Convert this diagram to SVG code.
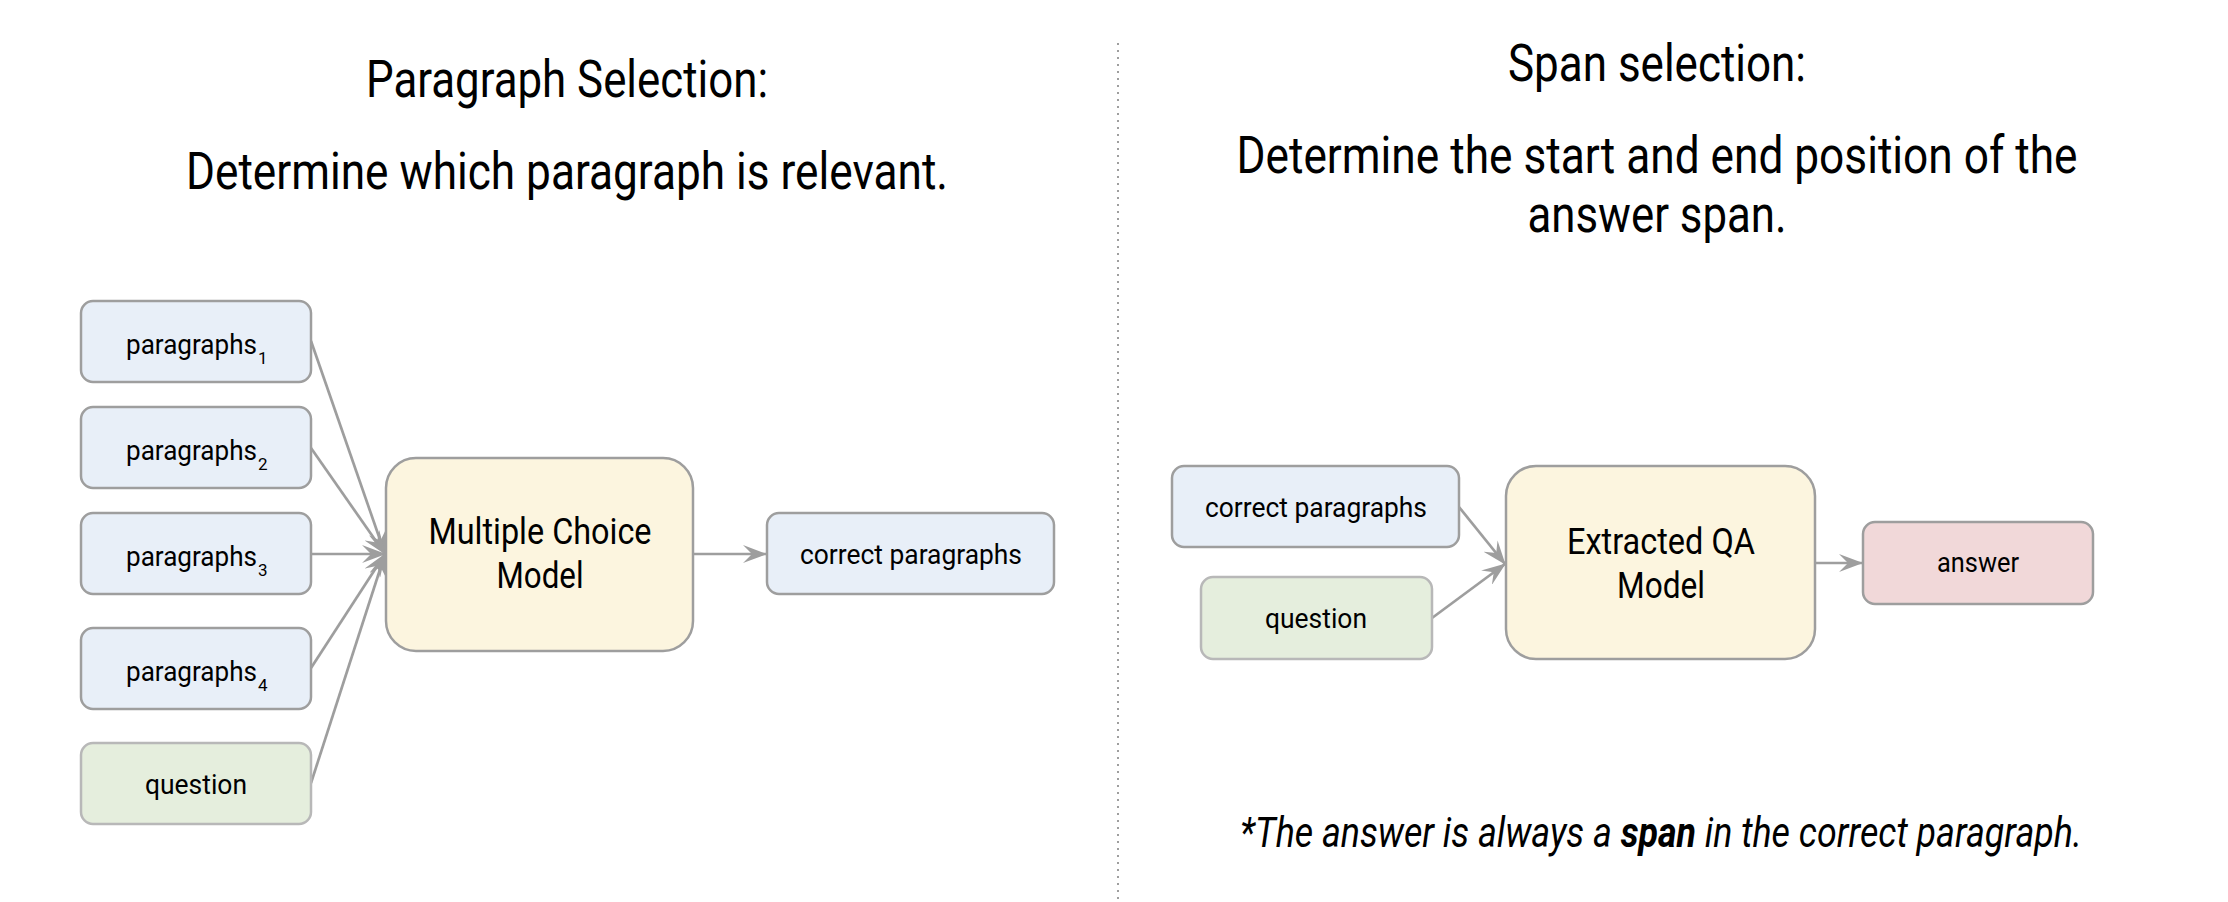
<svg xmlns="http://www.w3.org/2000/svg" width="2228" height="902" viewBox="0 0 2228 902">
<style>
text{font-family:Roboto,"Liberation Sans",sans-serif;fill:#000;}
.title{font-size:52px;}
.node{font-size:28px;}
.big{font-size:36px;}
.sub{font-size:17px;}
.blue{fill:#e8eff8;stroke:#9e9e9e;stroke-width:2.5;}
.green{fill:#e5eedd;stroke:#b8b8b8;stroke-width:2.5;}
.yellow{fill:#fcf5df;stroke:#9e9e9e;stroke-width:2.5;}
.pink{fill:#f1d8d9;stroke:#9e9e9e;stroke-width:2.5;}
.conn{stroke:#9e9e9e;stroke-width:2.7;fill:none;marker-end:url(#arr);}
</style>
<defs>
<marker id="arr" viewBox="0 0 24 18" refX="23" refY="9" markerWidth="24" markerHeight="18" markerUnits="userSpaceOnUse" orient="auto">
<path d="M0,0 L24,9 L0,18 L9,9 z" fill="#9e9e9e"/>
</marker>
</defs>
<rect width="2228" height="902" fill="#fff"/>
<line x1="1118" y1="43" x2="1118" y2="902" stroke="#9e9e9e" stroke-width="2" stroke-dasharray="2,5"/>
<g id="titles" text-anchor="middle">
<text class="title" x="567" y="97" textLength="402" lengthAdjust="spacingAndGlyphs">Paragraph Selection:</text>
<text class="title" x="567" y="189" textLength="762" lengthAdjust="spacingAndGlyphs">Determine which paragraph is relevant.</text>
<text class="title" x="1657" y="81" textLength="298" lengthAdjust="spacingAndGlyphs">Span selection:</text>
<text class="title" x="1657" y="173" textLength="841" lengthAdjust="spacingAndGlyphs">Determine the start and end position of the</text>
<text class="title" x="1657" y="232" textLength="259" lengthAdjust="spacingAndGlyphs">answer span.</text>
<text x="1661" y="847" style="font-size:42px;font-style:italic" textLength="842" lengthAdjust="spacingAndGlyphs">*The answer is always a <tspan font-weight="bold">span</tspan> in the correct paragraph.</text>
</g>
<g id="connectors">
<line class="conn" x1="311" y1="341" x2="385" y2="554"/>
<line class="conn" x1="311" y1="448" x2="385" y2="554"/>
<line class="conn" x1="311" y1="554" x2="385" y2="554"/>
<line class="conn" x1="311" y1="668" x2="385" y2="554"/>
<line class="conn" x1="311" y1="783" x2="385" y2="554"/>
<line class="conn" x1="693" y1="554" x2="766" y2="554"/>
<line class="conn" x1="1459" y1="507" x2="1505" y2="564"/>
<line class="conn" x1="1432" y1="618" x2="1505" y2="564"/>
<line class="conn" x1="1815" y1="563" x2="1862" y2="563"/>
</g>
<g id="p1"><rect class="blue" x="81" y="301" width="230" height="81" rx="12"/><text class="node" x="126" y="354" textLength="131" lengthAdjust="spacingAndGlyphs">paragraphs</text><text class="sub" x="258" y="364">1</text></g>
<g id="p2"><rect class="blue" x="81" y="407" width="230" height="81" rx="12"/><text class="node" x="126" y="460" textLength="131" lengthAdjust="spacingAndGlyphs">paragraphs</text><text class="sub" x="258" y="470">2</text></g>
<g id="p3"><rect class="blue" x="81" y="513" width="230" height="81" rx="12"/><text class="node" x="126" y="566" textLength="131" lengthAdjust="spacingAndGlyphs">paragraphs</text><text class="sub" x="258" y="576">3</text></g>
<g id="p4"><rect class="blue" x="81" y="628" width="230" height="81" rx="12"/><text class="node" x="126" y="681" textLength="131" lengthAdjust="spacingAndGlyphs">paragraphs</text><text class="sub" x="258" y="691">4</text></g>
<g id="q1"><rect class="green" x="81" y="743" width="230" height="81" rx="12"/><text class="node" x="196" y="794" text-anchor="middle" textLength="102" lengthAdjust="spacingAndGlyphs">question</text></g>
<g id="mc"><rect class="yellow" x="386" y="458" width="307" height="193" rx="30"/><text class="big" x="540" y="544" text-anchor="middle" textLength="223" lengthAdjust="spacingAndGlyphs">Multiple Choice</text><text class="big" x="540" y="588" text-anchor="middle" textLength="87" lengthAdjust="spacingAndGlyphs">Model</text></g>
<g id="cp1"><rect class="blue" x="767" y="513" width="287" height="81" rx="12"/><text class="node" x="911" y="564" text-anchor="middle" textLength="222" lengthAdjust="spacingAndGlyphs">correct paragraphs</text></g>
<g id="cp2"><rect class="blue" x="1172" y="466" width="287" height="81" rx="12"/><text class="node" x="1316" y="517" text-anchor="middle" textLength="222" lengthAdjust="spacingAndGlyphs">correct paragraphs</text></g>
<g id="q2"><rect class="green" x="1201" y="577" width="231" height="82" rx="12"/><text class="node" x="1316" y="628" text-anchor="middle" textLength="102" lengthAdjust="spacingAndGlyphs">question</text></g>
<g id="qa"><rect class="yellow" x="1506" y="466" width="309" height="193" rx="30"/><text class="big" x="1661" y="554" text-anchor="middle" textLength="188" lengthAdjust="spacingAndGlyphs">Extracted QA</text><text class="big" x="1661" y="598" text-anchor="middle" textLength="88" lengthAdjust="spacingAndGlyphs">Model</text></g>
<g id="ans"><rect class="pink" x="1863" y="522" width="230" height="82" rx="12"/><text class="node" x="1978" y="572" text-anchor="middle" textLength="82" lengthAdjust="spacingAndGlyphs">answer</text></g>
</svg>
